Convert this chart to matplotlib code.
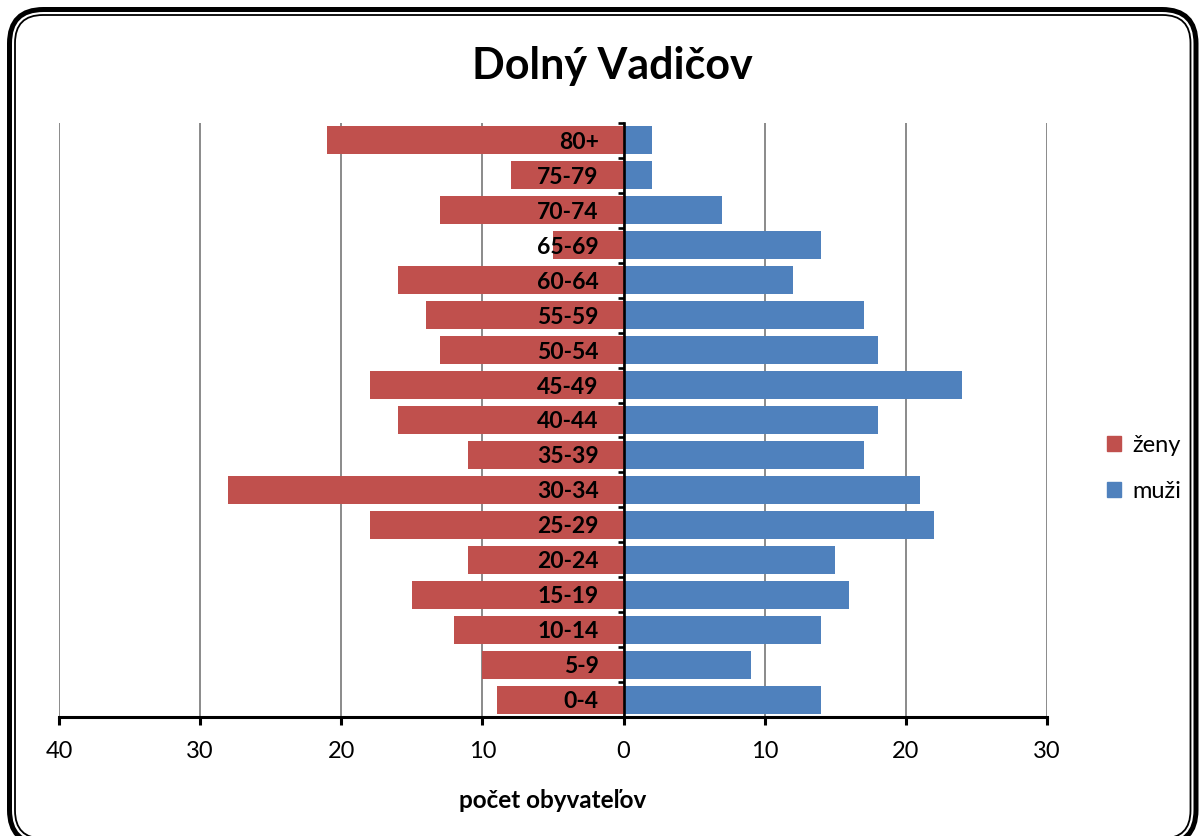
import matplotlib.pyplot as plt
import matplotlib as mpl
from matplotlib.patches import Patch, FancyBboxPatch
from matplotlib.transforms import IdentityTransform
import numpy as np

# Data (bottom to top)
categories = ['0-4', '5-9', '10-14', '15-19', '20-24', '25-29', '30-34', '35-39',
              '40-44', '45-49', '50-54', '55-59', '60-64', '65-69', '70-74', '75-79', '80+']
zeny = [9, 10, 12, 15, 11, 18, 28, 11, 16, 18, 13, 14, 16, 5, 13, 8, 21]
muzi = [14, 9, 14, 16, 15, 22, 21, 17, 18, 24, 18, 17, 12, 14, 7, 2, 2]
xticks = [-40, -30, -20, -10, 0, 10, 20, 30]
xticklabels = ['40', '30', '20', '10', '0', '10', '20', '30']

red = '#C0504D'
blue = '#4F81BD'

mpl.rcParams['font.family'] = ['Lato', 'DejaVu Sans']

fig = plt.figure(figsize=(12, 8.36), dpi=100)
ax = fig.add_axes([59/1200, 1-717/836, (1047-59)/1200, (717-123)/836])

y = np.arange(len(categories))
ax.barh(y, -np.array(zeny), height=0.8, color=red, zorder=1)
ax.barh(y, muzi, height=0.8, color=blue, zorder=1)

ax.set_xlim(-40, 30)
ax.set_ylim(-0.5, len(categories) - 0.5)

# Grid behind bars
ax.set_axisbelow(True)
ax.set_xticks(xticks)
ax.set_xticklabels(xticklabels, fontsize=17)
ax.xaxis.grid(True, color='#8a8a8a', linewidth=1.4)
ax.tick_params(axis='x', direction='out', length=6, width=2.2, pad=11, color='black')

# Vertical axis at zero, category labels drawn in front of bars
ax.spines['left'].set_position(('data', 0))
ax.spines['left'].set_linewidth(1.9)
ax.spines['left'].set_zorder(5)
ax.yaxis.set_zorder(5)
ax.set_yticks(y)
ax.set_yticklabels(categories, fontsize=16.5, fontweight='bold')
ax.set_yticks(np.arange(-0.5, len(categories), 1.0), minor=True)
ax.tick_params(axis='y', which='major', length=0, pad=18)
ax.tick_params(axis='y', which='minor', direction='out', length=4.5, width=1.9, color='black')

ax.spines['right'].set_visible(False)
ax.spines['top'].set_visible(False)
ax.spines['bottom'].set_linewidth(2.2)

ax.set_xlabel('počet obyvateľov', fontsize=17.5, fontweight='bold', labelpad=20)

fig.text(0.51, 0.921, 'Dolný Vadičov', fontsize=31, fontweight='bold',
         ha='center', va='center')

handles = [Patch(color=red, label='ženy'), Patch(color=blue, label='muži')]
fig.legend(handles=handles, loc='center left', bbox_to_anchor=(0.905, 0.44),
           frameon=False, fontsize=17, handlelength=0.6, handleheight=0.6,
           handletextpad=0.45, labelspacing=1.05)

# Rounded double border, in pixel coordinates
W, H = 1200, 836
outer = FancyBboxPatch((9.5, -8), 1196 - 9.5, (H - 9.5) + 8,
                       boxstyle='round,pad=0,rounding_size=34',
                       transform=IdentityTransform(), fill=False,
                       edgecolor='black', linewidth=3.6)
inner = FancyBboxPatch((15, -2.5), 1190.5 - 15, (H - 15) + 2.5,
                       boxstyle='round,pad=0,rounding_size=28',
                       transform=IdentityTransform(), fill=False,
                       edgecolor='black', linewidth=1.3)
fig.add_artist(outer)
fig.add_artist(inner)

fig.savefig('out.png', dpi=100)
